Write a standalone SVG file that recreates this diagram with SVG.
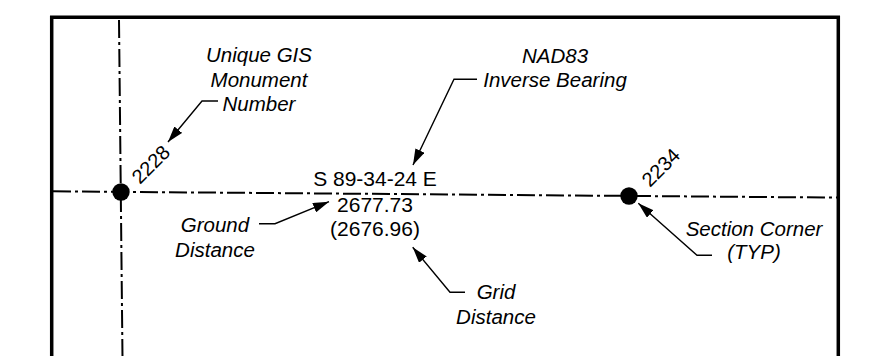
<svg xmlns="http://www.w3.org/2000/svg" width="877" height="356" viewBox="0 0 877 356">
<defs>
<marker id="ah" viewBox="0 0 16 10" refX="16" refY="5" markerWidth="16" markerHeight="10" markerUnits="userSpaceOnUse" orient="auto">
<path d="M0,0 L16,5 L0,10 Z" fill="#000"/>
</marker>
<style>
.lbl{font-family:"Liberation Sans",Arial,sans-serif;font-size:20.5px;font-style:italic;fill:#000;text-anchor:middle}
.val{font-family:"Liberation Sans",Arial,sans-serif;font-size:21px;fill:#000;text-anchor:middle}
.num{font-family:"Liberation Sans",Arial,sans-serif;font-size:20px;fill:#000}
.cl{fill:none;stroke:#000;stroke-width:2;stroke-dasharray:18 4 3 4}
.ld{fill:none;stroke:#000;stroke-width:1.4;marker-end:url(#ah)}
.frame{fill:none;stroke:#000;stroke-width:3.5}
</style>
</defs>
<rect width="877" height="356" fill="#fff"/>
<path class="frame" d="M51.7,358 L51.7,17.3 L838.3,17.3 L838.3,358"/>
<g id="lines">
<line class="cl" x1="119" y1="20" x2="122.5" y2="358"/>
<line class="cl" x1="53" y1="191.3" x2="837" y2="197.6"/>
</g>
<g id="connectors">
<path class="ld" d="M218,101 L202,101 L168,142"/>
<path class="ld" d="M477,79.3 L454,79.3 L413,165"/>
<path class="ld" d="M259,223.7 L275,223.7 L329,201.7"/>
<path class="ld" d="M465,292.3 L450,292.3 L412.7,247.3"/>
<path class="ld" d="M712,255.3 L697,255.3 L638.3,203.3"/>
</g>
<g id="corner-2228">
<circle cx="121" cy="192" r="8.7" fill="#000"/>
<text class="num" transform="translate(140,185) rotate(-45)">2228</text>
</g>
<g id="corner-2234">
<circle cx="629" cy="196" r="8.7" fill="#000"/>
<text class="num" transform="translate(650,188) rotate(-45)">2234</text>
</g>
<g id="label-gis">
<text class="lbl" x="259" y="62">Unique GIS</text>
<text class="lbl" x="259" y="86.5">Monument</text>
<text class="lbl" x="259" y="111">Number</text>
</g>
<g id="label-nad83">
<text class="lbl" x="555" y="63">NAD83</text>
<text class="lbl" x="555" y="87">Inverse Bearing</text>
</g>
<g id="bearing">
<text class="val" x="375" y="186">S 89-34-24 E</text>
<text class="val" x="375" y="211.5">2677.73</text>
<text class="val" x="375" y="235.5">(2676.96)</text>
</g>
<g id="label-ground">
<text class="lbl" x="215" y="231.5">Ground</text>
<text class="lbl" x="215" y="256.5">Distance</text>
</g>
<g id="label-grid">
<text class="lbl" x="496" y="299">Grid</text>
<text class="lbl" x="496" y="324">Distance</text>
</g>
<g id="label-section">
<text class="lbl" x="754" y="235.5">Section Corner</text>
<text class="lbl" x="754" y="259">(TYP)</text>
</g>
</svg>
